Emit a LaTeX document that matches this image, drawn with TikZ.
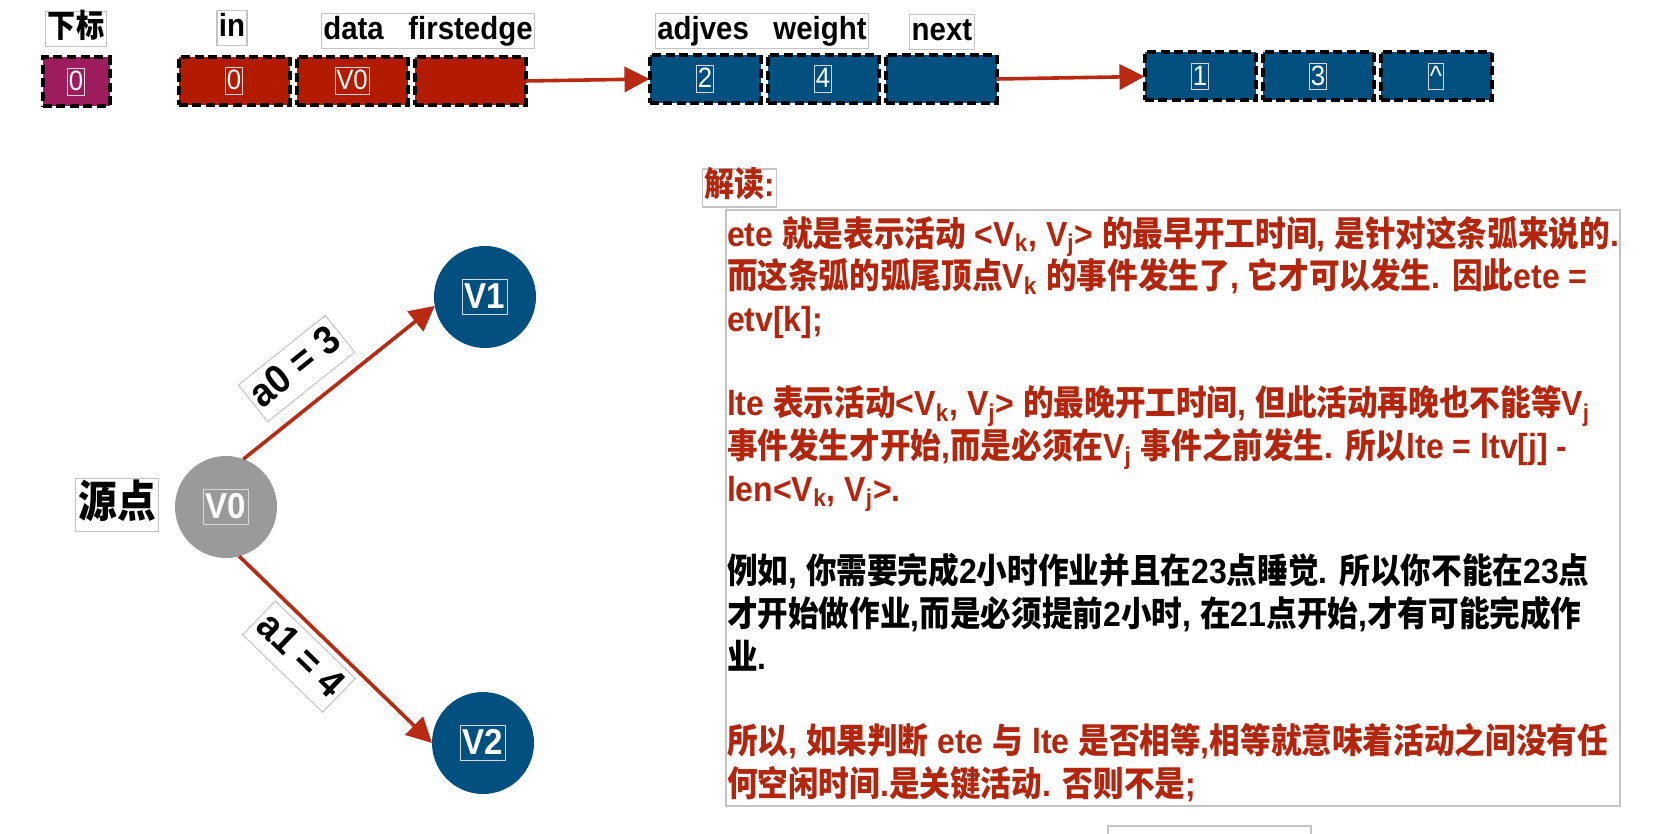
\documentclass[tikz,border=0pt]{standalone}
\usepackage{fontspec}
\setmainfont{Liberation Sans}[FakeStretch=0.92]
\newfontfamily\cjkfont{Noto Sans CJK SC}[FakeStretch=0.88]
\usetikzlibrary{arrows.meta,positioning}
\definecolor{CellPlum}{HTML}{9C1C5E}
\definecolor{CellRed}{HTML}{B31B00}
\definecolor{CellBlue}{HTML}{02507F}
\definecolor{NoteRed}{HTML}{B3260D}
\definecolor{ArcRed}{HTML}{B82A12}
\definecolor{NodeGray}{HTML}{9A9A9A}
\definecolor{FrameGray}{HTML}{C4C4C4}
\definecolor{TagLine}{HTML}{D8D8D8}

% switch to the CJK font for runs of Han characters
\newXeTeXintercharclass\HanClass
\count255="4E00
\loop\XeTeXcharclass\count255=\HanClass\advance\count255 by 1 \ifnum\count255<"A000\repeat
\XeTeXinterchartoks 0 \HanClass = {\cjkfont}
\XeTeXinterchartoks 4095 \HanClass = {\cjkfont}
\XeTeXinterchartoks \HanClass 0 = {\rmfamily}
\XeTeXinterchartoks \HanClass 4095 = {\rmfamily}
\XeTeXinterchartoks \HanClass \HanClass = {}
\XeTeXinterchartokenstate=1

\newcommand{\vsub}[1]{V\textsubscript{#1}}

\begin{document}
\begin{tikzpicture}[x=0.5pt,y=-0.5pt,
  every node/.style={outer sep=0pt},
  cell/.style={draw=black, line width=2pt, dash pattern=on 4.5pt off 2.3pt, minimum width=55.5pt, minimum height=24pt, inner sep=0pt},
  idxcell/.style={cell, fill=CellPlum, minimum width=33.5pt, minimum height=24.5pt},
  vexcell/.style={cell, fill=CellRed},
  arccell/.style={cell, fill=CellBlue},
  valtag/.style={draw=TagLine, line width=0.4pt, inner sep=0.6pt, text height=10.5pt, text depth=1.5pt, text=white, font=\fontsize{14}{14}\selectfont},
  fieldtag/.style={draw=FrameGray, line width=0.6pt, inner sep=1pt, text height=12pt, text depth=3.5pt, font=\fontsize{16}{16}\selectfont\bfseries},
  vertex/.style={circle, minimum size=51pt, inner sep=0pt},
  vtag/.style={draw=TagLine, line width=0.4pt, inner sep=1pt, text height=13.5pt, text depth=2pt, text=white, font=\fontsize{18}{18}\selectfont\bfseries},
  arc/.style={-{Triangle[length=12.5pt,width=12.5pt]}, line width=1.8pt, draw=ArcRed},
  wlabel/.style={draw=FrameGray, line width=0.5pt, fill=white, inner sep=2pt, text height=15pt, text depth=4.5pt, font=\fontsize{20}{20}\selectfont\bfseries},
  note/.style={align=left, inner sep=0pt, anchor=north west, text=NoteRed, font=\fontsize{17.4}{21.35}\selectfont\bfseries}
]
  \path[use as bounding box, fill=white] (0,0) rectangle (1664,834);

  % adjacency list of vertex 0
  \node[idxcell] (idx) at (76,82) {};
  \node[valtag] (idxval) at (idx) {0};
  \node[vexcell] (vin) at (234,81) {};
  \node[vexcell, right=3.5pt of vin] (vdata) {};
  \node[vexcell, right=3.5pt of vdata] (vfirst) {};
  \node[valtag] (vinval) at (vin) {0};
  \node[valtag] (vdataval) at (vdata) {V0};

  \node[arccell] (adj1) at (705,79) {};
  \node[arccell, right=3.5pt of adj1] (wt1) {};
  \node[arccell, right=3.5pt of wt1] (nxt1) {};
  \node[valtag] (adj1val) at (adj1) {2};
  \node[valtag] (wt1val) at (wt1) {4};

  \node[arccell] (adj2) at (1200,76.5) {};
  \node[arccell, right=3.5pt of adj2] (wt2) {};
  \node[arccell, right=3.5pt of wt2] (nxt2) {};
  \node[valtag] (adj2val) at (adj2) {1};
  \node[valtag] (wt2val) at (wt2) {3};
  \node[valtag] (nxt2val) at (nxt2) {\textasciicircum};

  \node[fieldtag] (hidx) at (76,29) {下标};
  \node[fieldtag] (hin) at (232,28) {in};
  \node[fieldtag] (hdata) at (428,31) {data\ \ \ firstedge};
  \node[fieldtag] (hadj) at (762,31) {adjves\ \ \ weight};
  \node[fieldtag] (hnext) at (942,32) {next};

  \draw[arc] (vfirst.east) -- (adj1.west);
  \draw[arc] (nxt1.east) -- (adj2.west);

  % the two activities leaving the source
  \node[vertex, fill=NodeGray] (v0) at (226,507) {};
  \node[vertex, fill=CellBlue] (v1) at (485,297) {};
  \node[vertex, fill=CellBlue] (v2) at (483,743) {};
  \node[vtag] (v0tag) at (v0) {V0};
  \node[vtag] (v1tag) at (v1) {V1};
  \node[vtag] (v2tag) at (v2) {V2};
  \node[wlabel, inner sep=1.5pt, text height=18pt, text depth=5.5pt, font=\fontsize{22}{22}\selectfont\bfseries] (src) at (117,505) {源点};

  \draw[arc] (v0.70) -- (v1.190) node[wlabel, sloped, pos=0.4, above=7pt] (w0) {a0 = 3};
  \draw[arc] (v0.285) -- (v2.west) node[wlabel, sloped, pos=0.42, below=3.5pt] (w1) {a1 = 4};

  % explanation
  \node[fieldtag, text=NoteRed, font=\fontsize{17}{17}\selectfont\bfseries, text height=13pt, text depth=4pt] (nhead) at (739.5,188) {解读:};
  \node[draw=FrameGray, line width=0.8pt, minimum width=447pt, minimum height=298pt, anchor=north west] (nbox) at (726,210) {};

  \node[note] (para1) at (727,216) {ete 就是表示活动 <\vsub{k}, \vsub{j}> 的最早开工时间, 是针对这条弧来说的.\\
    而这条弧的弧尾顶点\vsub{k} 的事件发生了, 它才可以发生. 因此ete =\\
    etv[k];};
  \node[note] (para2) at (727,385.5) {lte 表示活动<\vsub{k}, \vsub{j}> 的最晚开工时间, 但此活动再晚也不能等\vsub{j}\\
    事件发生才开始,而是必须在\vsub{j} 事件之前发生. 所以lte = ltv[j] -\\
    len<\vsub{k}, \vsub{j}>.};
  \node[note, text=black] (para3) at (727,553.5) {例如, 你需要完成2小时作业并且在23点睡觉. 所以你不能在23点\\
    才开始做作业,而是必须提前2小时, 在21点开始,才有可能完成作\\
    业.};
  \node[note] (para4) at (727,723.5) {所以, 如果判断 ete 与 lte 是否相等,相等就意味着活动之间没有任\\
    何空闲时间.是关键活动. 否则不是;};

  \draw[FrameGray, line width=0.8pt] (1108,850) |- (1311,826) -- (1311,850);
\end{tikzpicture}
\end{document}
